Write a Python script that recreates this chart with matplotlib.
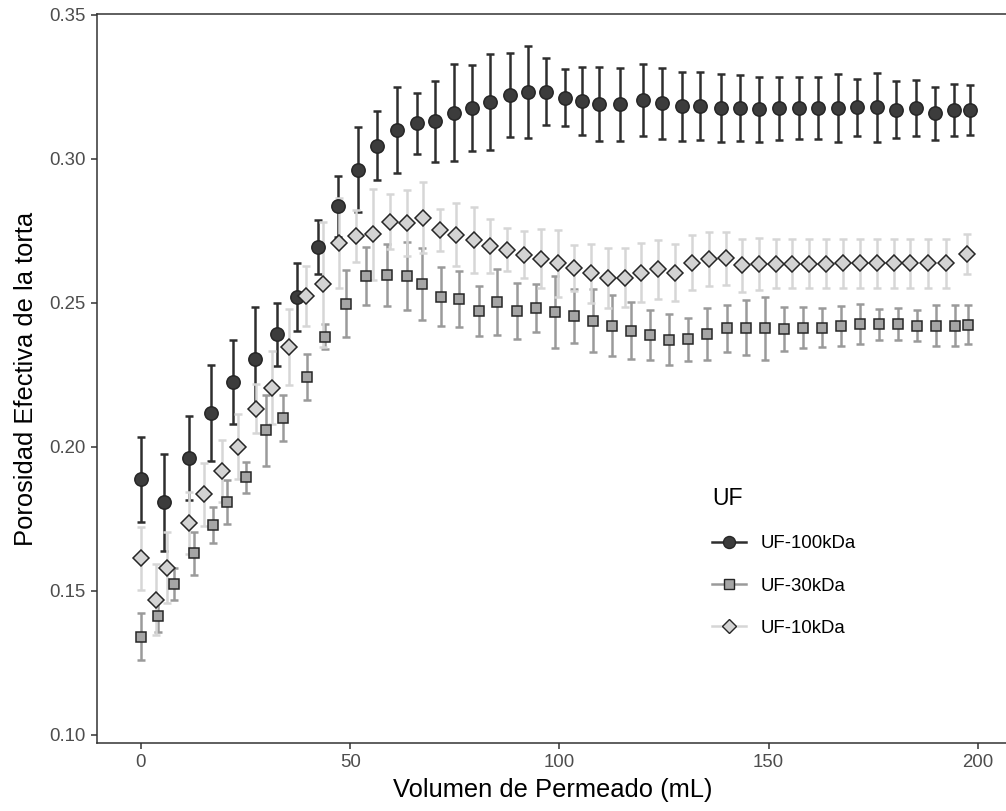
import matplotlib
matplotlib.use("Agg")
import matplotlib.pyplot as plt
from matplotlib.lines import Line2D

plt.rcParams['font.family'] = ['Liberation Sans', 'DejaVu Sans']

# UF-100kDa (circulos)
x100 = [0, 5.5, 11.5, 16.8, 22.1, 27.2, 32.4, 37.4, 42.4, 47.2, 51.9, 56.4, 61.1,
        65.9, 70.3, 74.8, 79.2, 83.5, 88.2, 92.4, 96.8, 101.3, 105.4, 109.4, 114.4,
        119.9, 124.6, 129.2, 133.6, 138.5, 143.2, 147.8, 152.5, 157.2, 161.8, 166.5,
        171.1, 175.8, 180.5, 185.1, 189.8, 194.3, 198.0]
y100 = [0.1887, 0.1808, 0.1961, 0.2118, 0.2224, 0.2305, 0.2391, 0.2520, 0.2694, 0.2835,
        0.2963, 0.3045, 0.3100, 0.3123, 0.3130, 0.3161, 0.3177, 0.3198, 0.3222, 0.3233,
        0.3233, 0.3212, 0.3202, 0.3191, 0.3189, 0.3206, 0.3193, 0.3182, 0.3184, 0.3177,
        0.3176, 0.3172, 0.3176, 0.3176, 0.3176, 0.3177, 0.3179, 0.3179, 0.3171, 0.3176,
        0.3159, 0.3170, 0.3170]
e100 = [0.0148, 0.0168, 0.0145, 0.0167, 0.0146, 0.0180, 0.0110, 0.0119, 0.0095, 0.0105,
        0.0148, 0.0120, 0.0149, 0.0106, 0.0141, 0.0167, 0.0149, 0.0167, 0.0146, 0.0159,
        0.0116, 0.0099, 0.0118, 0.0128, 0.0127, 0.0125, 0.0123, 0.0121, 0.0119, 0.0117,
        0.0114, 0.0114, 0.0110, 0.0108, 0.0107, 0.0118, 0.0099, 0.0119, 0.0099, 0.0097,
        0.0092, 0.0091, 0.0088]

# UF-30kDa (cuadrados)
x30 = [0, 4.0, 7.8, 12.6, 17.3, 20.5, 25.0, 30.0, 34.0, 39.6, 44.0, 48.9, 53.8, 58.7,
       63.6, 67.1, 71.6, 76.1, 80.7, 85.2, 89.8, 94.4, 99.0, 103.5, 108.1, 112.6, 117.1,
       121.6, 126.2, 130.8, 135.3, 140.0, 144.5, 149.1, 153.6, 158.3, 162.7, 167.3,
       171.8, 176.3, 180.9, 185.4, 190.0, 194.6, 197.7]
y30 = [0.1341, 0.1412, 0.1523, 0.1630, 0.1729, 0.1810, 0.1895, 0.2057, 0.2101, 0.2242,
       0.2382, 0.2497, 0.2594, 0.2597, 0.2594, 0.2566, 0.2522, 0.2514, 0.2472, 0.2503,
       0.2472, 0.2481, 0.2470, 0.2455, 0.2438, 0.2421, 0.2404, 0.2390, 0.2372, 0.2373,
       0.2391, 0.2412, 0.2414, 0.2412, 0.2410, 0.2414, 0.2414, 0.2420, 0.2426, 0.2426,
       0.2427, 0.2421, 0.2421, 0.2421, 0.2424]
e30 = [0.0081, 0.0055, 0.0056, 0.0076, 0.0064, 0.0076, 0.0054, 0.0122, 0.0079, 0.0080,
       0.0043, 0.0116, 0.0101, 0.0109, 0.0118, 0.0124, 0.0102, 0.0098, 0.0087, 0.0114,
       0.0098, 0.0083, 0.0125, 0.0093, 0.0110, 0.0106, 0.0100, 0.0087, 0.0088, 0.0074,
       0.0090, 0.0082, 0.0095, 0.0109, 0.0077, 0.0071, 0.0068, 0.0068, 0.0070, 0.0054,
       0.0055, 0.0054, 0.0072, 0.0070, 0.0068]

# UF-10kDa (rombos)
x10 = [0, 3.7, 6.3, 11.5, 15.1, 19.3, 23.3, 27.4, 31.3, 35.4, 39.4, 43.4, 47.4, 51.4,
       55.4, 59.5, 63.5, 67.5, 71.4, 75.4, 79.5, 83.5, 87.5, 91.5, 95.5, 99.6, 103.5,
       107.6, 111.6, 115.6, 119.6, 123.6, 127.6, 131.7, 135.7, 139.7, 143.7, 147.7,
       151.7, 155.7, 159.7, 163.7, 167.8, 171.9, 175.9, 179.9, 183.9, 188.2, 192.4, 197.3]
y10 = [0.1613, 0.1470, 0.1581, 0.1735, 0.1835, 0.1916, 0.2001, 0.2133, 0.2206, 0.2347,
       0.2525, 0.2564, 0.2708, 0.2731, 0.2738, 0.2782, 0.2777, 0.2796, 0.2753, 0.2737,
       0.2719, 0.2697, 0.2684, 0.2668, 0.2653, 0.2637, 0.2620, 0.2603, 0.2588, 0.2588,
       0.2605, 0.2617, 0.2605, 0.2640, 0.2653, 0.2655, 0.2630, 0.2634, 0.2636, 0.2636,
       0.2636, 0.2636, 0.2638, 0.2638, 0.2638, 0.2638, 0.2638, 0.2638, 0.2638, 0.2670]
e10 = [0.0110, 0.0122, 0.0122, 0.0108, 0.0108, 0.0108, 0.0112, 0.0085, 0.0126, 0.0132,
       0.0104, 0.0217, 0.0155, 0.0090, 0.0158, 0.0095, 0.0115, 0.0124, 0.0072, 0.0109,
       0.0115, 0.0094, 0.0075, 0.0080, 0.0103, 0.0117, 0.0080, 0.0102, 0.0104, 0.0101,
       0.0102, 0.0102, 0.0100, 0.0095, 0.0093, 0.0092, 0.0091, 0.0090, 0.0085, 0.0085,
       0.0085, 0.0085, 0.0085, 0.0085, 0.0085, 0.0085, 0.0085, 0.0085, 0.0085, 0.0068]

labels = ["UF-100kDa", "UF-30kDa", "UF-10kDa"]

fig = plt.figure(figsize=(10.06, 8.11), dpi=100)
ax = fig.add_axes([97/1006, 68/811, 911/1006, 729/811])

series = [
    (x100, y100, e100, "o", "#3c3c3c", "#2e2e2e", 9.6),
    (x30, y30, e30, "s", "#a5a5a5", "#9a9a9a", 7.9),
    (x10, y10, e10, "D", "#d3d3d3", "#d6d6d6", 8.2),
]

# barras de error primero
for xs, ys, es, mk, fc, bc, ms in series:
    ax.errorbar(xs, ys, yerr=es, fmt="none", ecolor=bc, elinewidth=1.8,
                capsize=2.6, capthick=1.8, zorder=2)
# puntos encima
for xs, ys, es, mk, fc, bc, ms in series:
    ax.plot(xs, ys, linestyle="none", marker=mk, markersize=ms,
            markerfacecolor=fc, markeredgecolor="#262626", markeredgewidth=1.1, zorder=3)

ax.set_xlim(-10.5, 207.2)
ax.set_ylim(0.0972, 0.3503)
ax.set_xticks([0, 50, 100, 150, 200])
ax.set_yticks([0.10, 0.15, 0.20, 0.25, 0.30, 0.35])
ax.set_yticklabels(["0.10", "0.15", "0.20", "0.25", "0.30", "0.35"])

for s in ax.spines.values():
    s.set_color("#333333")
    s.set_linewidth(1.1)
ax.tick_params(direction="out", length=4, width=1.1, color="#333333",
               labelcolor="#4d4d4d", labelsize=13.4, pad=4)

ax.set_xlabel("Volumen de Permeado (mL)", fontsize=18.4, labelpad=5)
ax.set_ylabel("Porosidad Efectiva de la torta", fontsize=18.4, labelpad=8)

handles = []
for (xs, ys, es, mk, fc, bc, ms), lab in zip(series, labels):
    handles.append(Line2D([], [], color=bc, lw=1.8, marker=mk, markersize=ms * 0.9,
                          markerfacecolor=fc, markeredgecolor="#262626",
                          markeredgewidth=1.0, label=lab))
leg = ax.legend(handles=handles, title="UF", loc="upper left",
                bbox_to_anchor=(703/1006, 1 - 478/811), bbox_transform=fig.transFigure,
                frameon=False, fontsize=13.4, title_fontsize=16.6,
                handlelength=1.8, handletextpad=0.8, labelspacing=1.35, borderpad=0)
leg._legend_box.align = "left"

plt.savefig("out.png", dpi=100)
